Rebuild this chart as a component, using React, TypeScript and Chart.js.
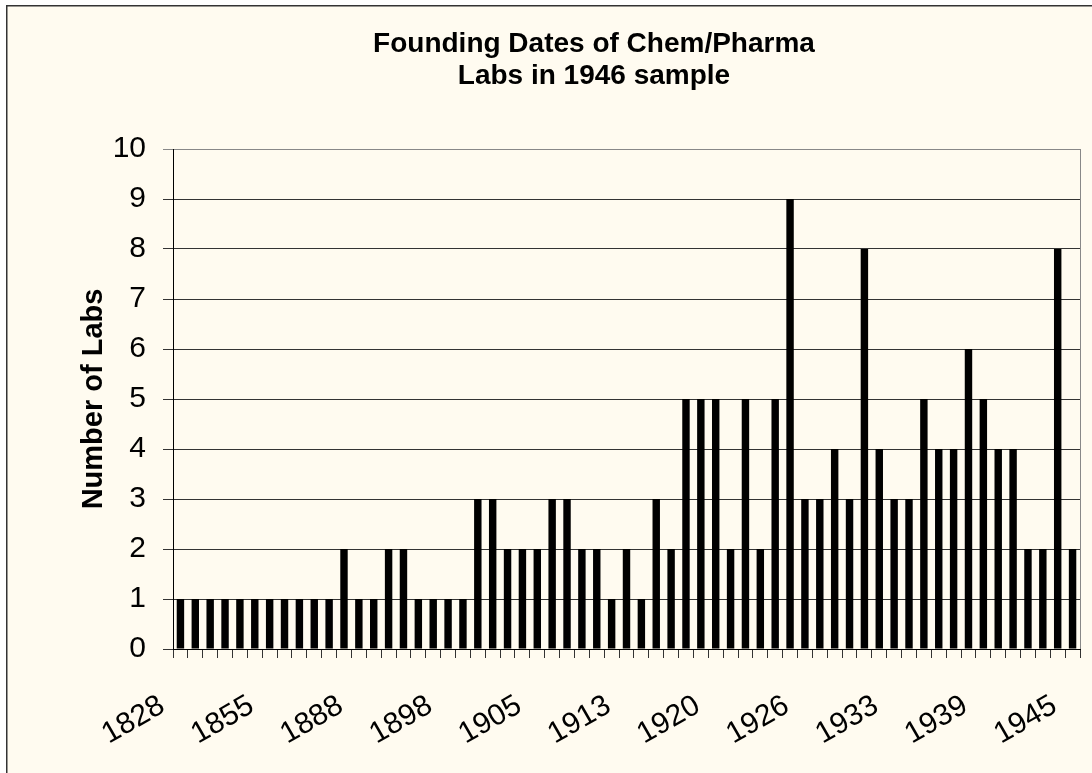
import React, { useEffect, useRef } from 'react';
import { Chart, registerables } from 'chart.js';

Chart.register(...registerables);

// Visible year labels (every 6th category is labelled in the original)
const tickYears = ['1828', '1855', '1888', '1898', '1905', '1913', '1920', '1926', '1933', '1939', '1945'];
const labelEvery = 6;

// Number of labs per founding year (61 categories)
const labCounts = [
  1, 1, 1, 1, 1, 1, 1, 1, 1, 1, 1, 2, 1, 1, 2, 2, 1, 1, 1, 1,
  3, 3, 2, 2, 2, 3, 3, 2, 2, 1, 2, 1, 3, 2, 5, 5, 5, 2, 5, 2, 5,
  9, 3, 3, 4, 3, 8, 4, 3, 3, 5, 4, 4, 6, 5, 4, 4, 2, 2, 8, 2,
];

const yTicks = [0, 10, 1]; // min, max, step

const titleLines = ['Founding Dates of Chem/Pharma', 'Labs in 1946 sample'];
const yTitle = 'Number of Labs';

const FONT = 'Liberation Sans, Arial, sans-serif';

const categories = labCounts.map((_, i) => (i % labelEvery === 0 ? tickYears[i / labelEvery] ?? '' : ''));

const backgroundPlugin = {
  id: 'bgFrame',
  beforeDraw(chart: any) {
    const { ctx, width, height } = chart;
    ctx.save();
    ctx.fillStyle = '#ffffff';
    ctx.fillRect(0, 0, width, height);
    ctx.fillStyle = '#FFFBF0';
    ctx.fillRect(7, 6, width - 7, height - 6);
    ctx.fillStyle = '#333333';
    ctx.fillRect(6, 5, width - 6, 1.5);
    ctx.fillRect(6, 5, 1.5, height - 5);
    ctx.restore();
  },
};

const plotBorderPlugin = {
  id: 'plotBorder',
  afterDraw(chart: any) {
    const { ctx, chartArea } = chart;
    ctx.save();
    ctx.strokeStyle = '#888888';
    ctx.lineWidth = 1;
    ctx.beginPath();
    ctx.moveTo(Math.round(chartArea.right) + 0.5, chartArea.top);
    ctx.lineTo(Math.round(chartArea.right) + 0.5, chartArea.bottom);
    ctx.stroke();
    ctx.restore();
  },
};

const titleShiftPlugin = {
  id: 'titleShift',
  afterLayout(chart: any) {
    const t = chart.titleBlock;
    if (t) {
      t.left += 54;
      t.right += 54;
    }
  },
};

export default function App() {
  const canvasRef = useRef<HTMLCanvasElement | null>(null);

  useEffect(() => {
    if (!canvasRef.current) return;
    const chart = new Chart(canvasRef.current, {
      type: 'bar',
      data: {
        labels: categories,
        datasets: [
          {
            label: yTitle,
            data: labCounts,
            backgroundColor: '#000000',
            borderWidth: 0,
            barPercentage: 0.5,
            categoryPercentage: 1.0,
          },
        ],
      },
      options: {
        responsive: false,
        animation: false,
        layout: { padding: { left: 0, right: 12, top: 0, bottom: 0 } },
        plugins: {
          legend: { display: false },
          tooltip: { enabled: false },
          title: {
            display: true,
            text: titleLines,
            color: '#000000',
            font: { family: FONT, size: 28, weight: 'bold', lineHeight: 32 / 28 },
            padding: { top: 28, bottom: 57 },
          },
        },
        scales: {
          x: {
            type: 'category',
            afterFit: (scale: any) => {
              scale.height = 124;
              scale.paddingLeft = 0;
              scale.paddingRight = 0;
            },
            border: { display: true, color: '#000000', width: 1 },
            grid: {
              offset: true,
              drawOnChartArea: false,
              drawTicks: true,
              tickLength: 9,
              color: '#333333',
            },
            ticks: {
              autoSkip: false,
              minRotation: 30,
              maxRotation: 30,
              padding: 30,
              labelOffset: -18,
              color: '#000000',
              font: { family: FONT, size: 30 },
            },
          },
          y: {
            min: yTicks[0],
            max: yTicks[1],
            afterFit: (scale: any) => {
              scale.width = 173;
            },
            border: { display: true, color: '#000000', width: 1 },
            grid: {
              color: (ctx: any) => (ctx.tick && ctx.tick.value === yTicks[1] ? '#888888' : '#333333'),
              lineWidth: 1,
              drawTicks: true,
              tickLength: 10,
            },
            ticks: {
              stepSize: yTicks[2],
              padding: 17,
              color: '#000000',
              font: { family: FONT, size: 30 },
            },
            title: {
              display: true,
              text: yTitle,
              color: '#000000',
              font: { family: FONT, size: 29, weight: 'bold' },
              padding: { top: 77, bottom: 0 },
            },
          },
        },
      },
      plugins: [backgroundPlugin, plotBorderPlugin, titleShiftPlugin],
    });
    return () => chart.destroy();
  }, []);

  return (
    <div style={{ position: 'fixed', left: 0, top: 0, width: 1092, height: 773 }}>
      <canvas ref={canvasRef} width={1092} height={773} style={{ display: 'block', width: 1092, height: 773 }} />
    </div>
  );
}
